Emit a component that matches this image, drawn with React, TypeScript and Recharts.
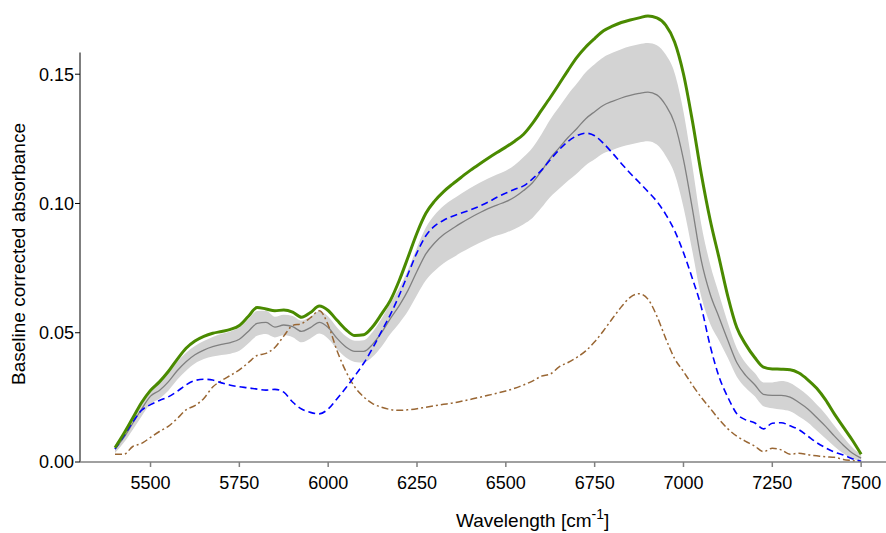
import React from 'react';
import { ComposedChart, Line, Area, XAxis, YAxis, ReferenceLine } from 'recharts';

// wavenumber grid (cm-1)
const wavenumbers = [
  5400, 5425, 5450, 5475, 5500, 5525, 5550, 5575, 5600, 5625, 5650, 5675, 5700, 5725, 5750, 5775,
  5800, 5825, 5850, 5875, 5900, 5925, 5950, 5975, 6000, 6025, 6050, 6075, 6100, 6125, 6150, 6175,
  6200, 6225, 6250, 6275, 6300, 6325, 6350, 6375, 6400, 6425, 6450, 6475, 6500, 6525, 6550, 6575,
  6600, 6625, 6650, 6675, 6700, 6725, 6750, 6775, 6800, 6825, 6850, 6875, 6900, 6925, 6950, 6975,
  7000, 7025, 7050, 7075, 7100, 7125, 7150, 7175, 7200, 7225, 7250, 7275, 7300, 7325, 7350, 7375,
  7400, 7425, 7450, 7475, 7500,
];

// thick green spectrum
const greenSeries = [
  0.0055, 0.011, 0.017, 0.023, 0.0277, 0.031, 0.035, 0.0397, 0.044, 0.0468, 0.0486, 0.0498, 0.0505, 0.0513, 0.0528, 0.0563,
  0.0598, 0.0592, 0.0585, 0.0588, 0.058, 0.056, 0.0578, 0.0603, 0.0586, 0.0548, 0.0512, 0.0489, 0.0492, 0.0523, 0.0572, 0.0625,
  0.0702, 0.0793, 0.0886, 0.0962, 0.101, 0.1046, 0.1075, 0.1102, 0.1128, 0.1152, 0.1175, 0.1197, 0.1218, 0.1241, 0.1268, 0.131,
  0.136, 0.141, 0.1462, 0.1515, 0.1565, 0.1605, 0.1638, 0.1668, 0.1686, 0.17, 0.171, 0.1718, 0.1725, 0.1718, 0.169, 0.1625,
  0.1501, 0.132, 0.1115, 0.0937, 0.079, 0.064, 0.052, 0.0455, 0.0405, 0.0367, 0.036, 0.0359, 0.0357, 0.0344, 0.0318, 0.0285,
  0.024, 0.0185, 0.0135, 0.0085, 0.003,
];

// grey mean spectrum
const meanSeries = [
  0.005, 0.0095, 0.015, 0.0205, 0.0255, 0.0277, 0.031, 0.0353, 0.0388, 0.0415, 0.0433, 0.0446, 0.0455, 0.0462, 0.0475, 0.0505,
  0.0536, 0.054, 0.0522, 0.053, 0.0524, 0.0505, 0.052, 0.054, 0.052, 0.0478, 0.0445, 0.0428, 0.0428, 0.0455, 0.05, 0.0555,
  0.0605, 0.0665, 0.0738, 0.0805, 0.0848, 0.088, 0.0903, 0.0925, 0.0945, 0.0963, 0.098, 0.0994, 0.1007, 0.1025, 0.105, 0.108,
  0.1125, 0.1175, 0.1215, 0.1255, 0.129, 0.1328, 0.1355, 0.138, 0.1395, 0.1408, 0.1418, 0.1426, 0.1431, 0.142, 0.138, 0.131,
  0.117, 0.098, 0.078, 0.065, 0.056, 0.047, 0.0385, 0.0335, 0.03, 0.0262, 0.0258, 0.0258, 0.0251, 0.023, 0.0205, 0.0172,
  0.0138, 0.01, 0.0065, 0.0035, 0.0015,
];

// shaded band, upper edge
const bandUpper = [
  0.0065, 0.0115, 0.0175, 0.0233, 0.0285, 0.0309, 0.0344, 0.0388, 0.0423, 0.0449, 0.0468, 0.0484, 0.0496, 0.0505, 0.052, 0.0552,
  0.0584, 0.0585, 0.0562, 0.057, 0.0565, 0.0547, 0.0562, 0.0583, 0.0563, 0.052, 0.0486, 0.0469, 0.0471, 0.0503, 0.0554, 0.0615,
  0.0673, 0.0745, 0.083, 0.0907, 0.0956, 0.0991, 0.1016, 0.1039, 0.106, 0.1079, 0.1097, 0.1112, 0.1127, 0.1149, 0.118, 0.1216,
  0.1267, 0.1325, 0.1373, 0.1422, 0.1464, 0.1508, 0.1539, 0.1566, 0.1583, 0.1597, 0.1608, 0.1616, 0.1621, 0.1612, 0.1576, 0.1505,
  0.1355, 0.1145, 0.092, 0.0765, 0.065, 0.0538, 0.044, 0.0383, 0.0345, 0.0308, 0.0308, 0.0313, 0.0306, 0.0284, 0.0257, 0.0222,
  0.0185, 0.014, 0.0097, 0.0057, 0.0027,
];

// shaded band, lower edge
const bandLower = [
  0.0035, 0.0075, 0.0125, 0.0177, 0.0225, 0.0245, 0.0276, 0.0318, 0.0353, 0.0381, 0.0398, 0.0408, 0.0414, 0.0419, 0.043, 0.0458,
  0.0488, 0.0495, 0.0482, 0.049, 0.0483, 0.0463, 0.0478, 0.0497, 0.0477, 0.0436, 0.0404, 0.0387, 0.0385, 0.0407, 0.0446, 0.0495,
  0.0537, 0.0585, 0.0646, 0.0703, 0.074, 0.0769, 0.079, 0.0811, 0.083, 0.0847, 0.0863, 0.0876, 0.0887, 0.0901, 0.092, 0.0944,
  0.0983, 0.1025, 0.1057, 0.1088, 0.1116, 0.1148, 0.1171, 0.1194, 0.1207, 0.1219, 0.1228, 0.1236, 0.1241, 0.1228, 0.1184, 0.1115,
  0.0985, 0.0815, 0.064, 0.0535, 0.047, 0.0402, 0.033, 0.0287, 0.0255, 0.0216, 0.0208, 0.0203, 0.0196, 0.0176, 0.0153, 0.0122,
  0.0091, 0.006, 0.0033, 0.0013, 0.0003,
];

// blue dashed spectrum
const blueSeries = [
  0.005, 0.01, 0.0155, 0.02, 0.0222, 0.0238, 0.0252, 0.0273, 0.0298, 0.0315, 0.032, 0.0317, 0.0306, 0.0297, 0.0291, 0.0287,
  0.0282, 0.0278, 0.0281, 0.027, 0.0232, 0.0205, 0.0192, 0.0186, 0.0205, 0.0245, 0.0287, 0.0333, 0.0382, 0.044, 0.0505, 0.057,
  0.0645, 0.0728, 0.081, 0.0875, 0.0913, 0.0935, 0.0951, 0.0963, 0.0975, 0.0989, 0.1005, 0.1024, 0.104, 0.1055, 0.1068, 0.1095,
  0.1128, 0.1169, 0.1208, 0.124, 0.1262, 0.1272, 0.1262, 0.1232, 0.1195, 0.1155, 0.1117, 0.1082, 0.1046, 0.1008, 0.0958, 0.0895,
  0.081, 0.071, 0.06, 0.045, 0.033, 0.025, 0.0187, 0.0163, 0.0152, 0.0128, 0.015, 0.0152, 0.014, 0.0125, 0.01, 0.0075,
  0.0055, 0.0038, 0.0027, 0.0013, 0.0003,
];

// brown dash-dot spectrum
const brownSeries = [
  0.003, 0.003, 0.006, 0.0072, 0.0095, 0.0118, 0.0138, 0.0168, 0.0202, 0.0218, 0.0246, 0.029, 0.0315, 0.0335, 0.0356, 0.0384,
  0.0412, 0.042, 0.0443, 0.0487, 0.0528, 0.0535, 0.0558, 0.0585, 0.053, 0.043, 0.035, 0.029, 0.0252, 0.0226, 0.0212, 0.0203,
  0.02, 0.0202, 0.0206, 0.0212, 0.0218, 0.0223, 0.0228, 0.0235, 0.0242, 0.025, 0.0258, 0.0266, 0.0275, 0.0285, 0.0298, 0.0313,
  0.0332, 0.034, 0.0368, 0.0385, 0.0405, 0.043, 0.0465, 0.0508, 0.0555, 0.06, 0.0637, 0.0651, 0.063, 0.0565, 0.0478, 0.04,
  0.035, 0.0298, 0.025, 0.0208, 0.0165, 0.0128, 0.01, 0.008, 0.0062, 0.004, 0.0053, 0.0047, 0.003, 0.0034, 0.0028, 0.0024,
  0.002, 0.0018, 0.001, 0.0005, 0,
];

const xTicks = [5500, 5750, 6000, 6250, 6500, 6750, 7000, 7250, 7500];
const yTicks = [0, 0.05, 0.1, 0.15];

const data = wavenumbers.map((wn, i) => ({
  wn,
  green: greenSeries[i],
  mean: meanSeries[i],
  band: [bandLower[i], bandUpper[i]],
  blue: blueSeries[i],
  brown: brownSeries[i],
}));

const FONT = '"Liberation Sans", Arial, sans-serif';

const XTitle = () => (
  <text x={456} y={527} fontFamily={FONT} fontSize={19} fill="#000">
    Wavelength [cm
    <tspan dy={-8} fontSize={14}>-1</tspan>
    <tspan dy={8}>]</tspan>
  </text>
);

const YTitle = () => (
  <text
    x={0}
    y={0}
    transform="translate(25,254) rotate(-90)"
    textAnchor="middle"
    fontFamily={FONT}
    fontSize={19}
    fill="#000"
  >
    Baseline corrected absorbance
  </text>
);

export default function App() {
  return (
    <div style={{ position: 'absolute', left: 0, top: 0, width: 886, height: 533, background: '#fff' }}>
      <ComposedChart width={886} height={533} data={data} margin={{ top: 7, right: 0, bottom: 0, left: 0 }}>
        <XAxis
          type="number"
          dataKey="wn"
          domain={[5301.5, 7570]}
          ticks={xTicks}
          allowDataOverflow
          height={71}
          stroke="#808080"
          strokeWidth={1.5}
          tickSize={5}
          tickMargin={9}
          tick={{ fill: '#000', fontSize: 18, fontFamily: FONT }}
          label={{ content: () => <XTitle /> }}
        />
        <YAxis
          type="number"
          domain={[0, 0.176]}
          ticks={yTicks}
          allowDataOverflow
          width={80}
          axisLine={false}
          tickLine={{ stroke: '#000' }}
          tickSize={5}
          tickMargin={1}
          tickFormatter={(v: number) => v.toFixed(2)}
          tick={{ fill: '#000', fontSize: 18, fontFamily: FONT }}
          label={{ content: () => <YTitle /> }}
        />
        <ReferenceLine
          segment={[{ x: 5301.5, y: 0 }, { x: 5301.5, y: 0.1584 }]}
          stroke="#000"
          strokeWidth={1}
          ifOverflow="visible"
        />
        <Area
          type="monotone"
          dataKey="band"
          stroke="none"
          fill="#d3d3d3"
          fillOpacity={1}
          isAnimationActive={false}
          activeDot={false}
        />
        <Line type="monotone" dataKey="mean" stroke="#808080" strokeWidth={1.3} dot={false} isAnimationActive={false} />
        <Line
          type="monotone"
          dataKey="brown"
          stroke="#996633"
          strokeWidth={1.5}
          strokeDasharray="7 3 2 3"
          dot={false}
          isAnimationActive={false}
        />
        <Line
          type="monotone"
          dataKey="blue"
          stroke="#0000ff"
          strokeWidth={1.6}
          strokeDasharray="7 4"
          dot={false}
          isAnimationActive={false}
        />
        <Line type="monotone" dataKey="green" stroke="#4a8a00" strokeWidth={3} dot={false} isAnimationActive={false} />
      </ComposedChart>
    </div>
  );
}
